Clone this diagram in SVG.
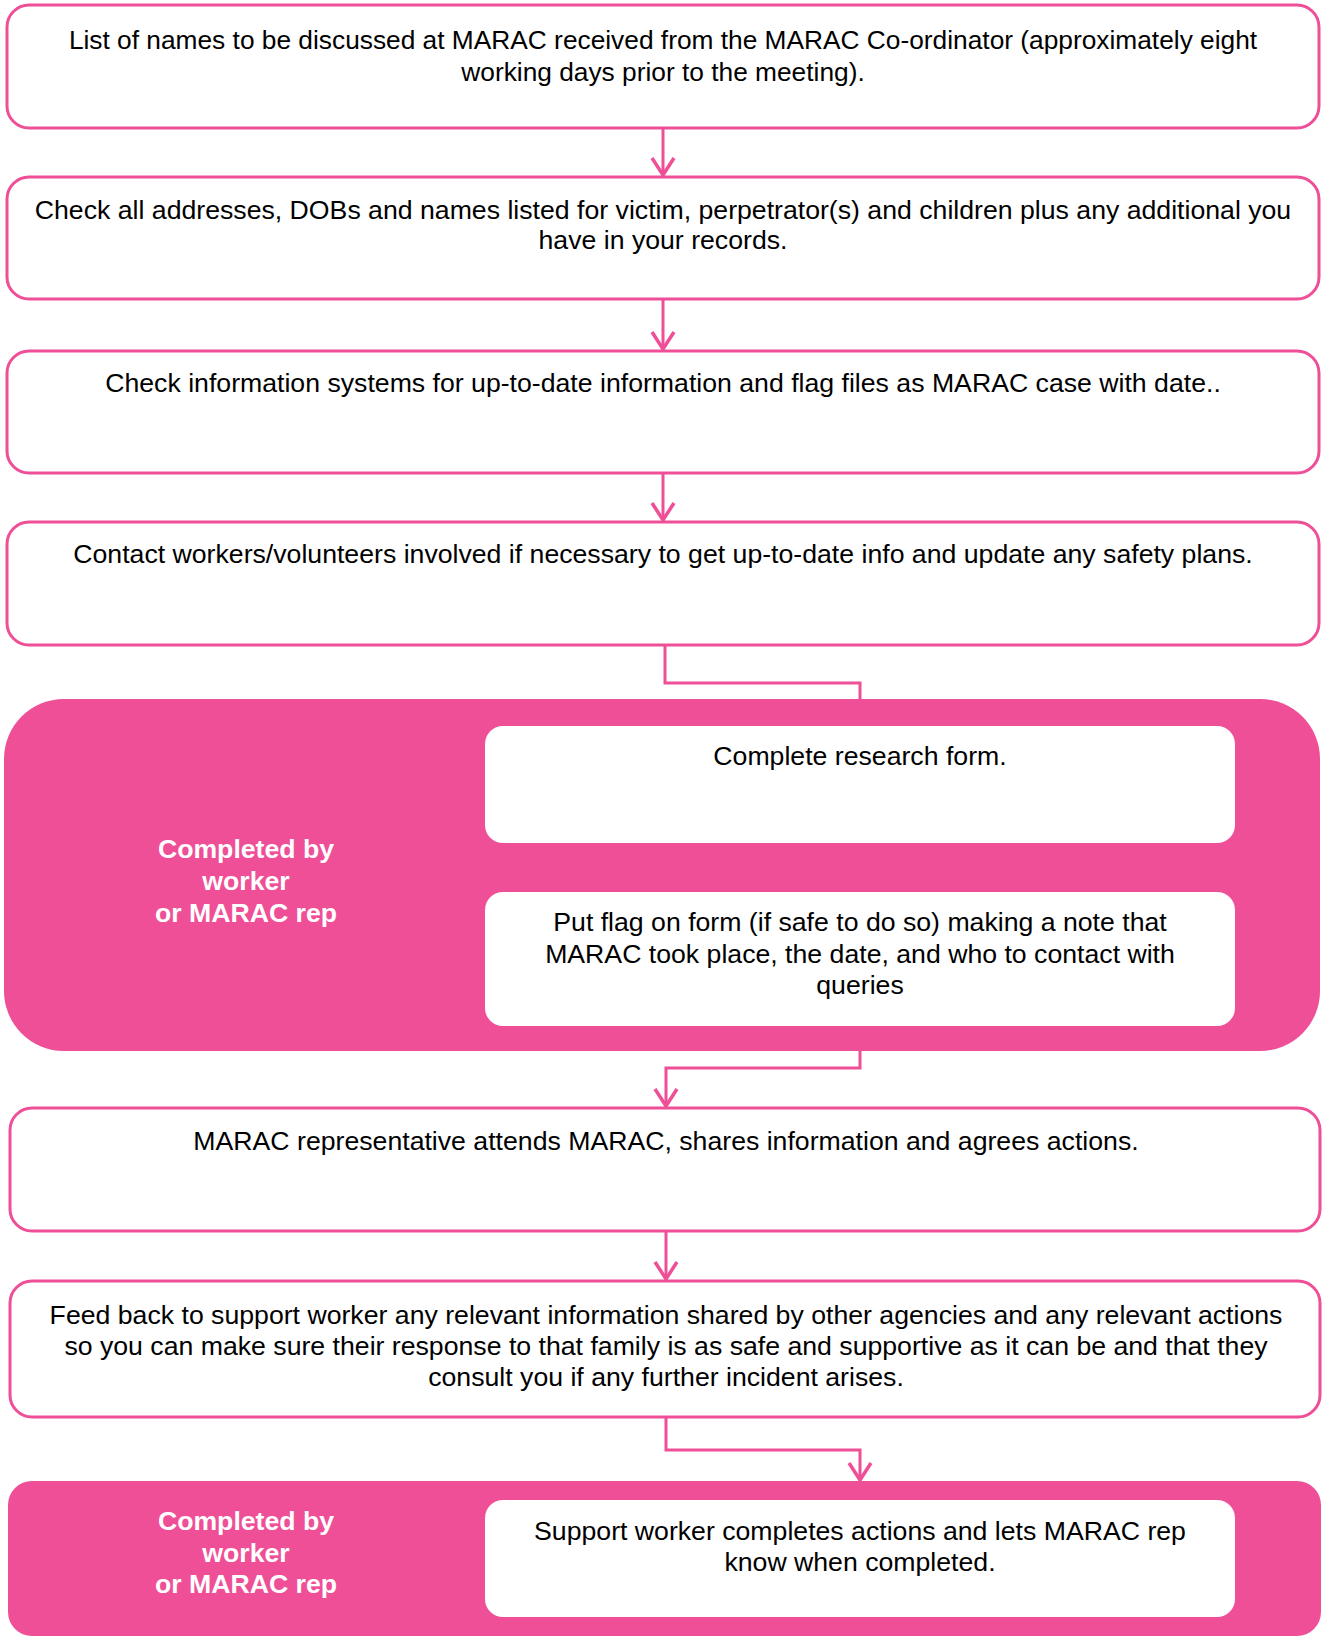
<svg xmlns="http://www.w3.org/2000/svg" width="1322" height="1636" viewBox="0 0 1322 1636">
<style>
.box{fill:#fff;stroke:#EF4F97;stroke-width:3}
.cont{fill:#EF4F97}
.inner{fill:#fff}
.t{font-family:"Liberation Sans",Arial,sans-serif;font-size:26.67px;fill:#000;text-anchor:middle}
.t1{font-size:26.3px}
.lbl{font-family:"Liberation Sans",Arial,sans-serif;font-size:26.67px;font-weight:bold;fill:#fff;text-anchor:middle}
.c{fill:none;stroke:#EF4F97;stroke-width:3}
.ah{fill:none;stroke:#EF4F97;stroke-width:3.5;stroke-linejoin:miter}
</style>
<rect width="1322" height="1636" fill="#fff"/>
<g id="connectors">
<path class="c" d="M663,128 V175"/>
<path class="ah" d="M652,158 L663,175 L674,158"/>
<path class="c" d="M663,299 V349"/>
<path class="ah" d="M652,332 L663,349 L674,332"/>
<path class="c" d="M663,473 V520"/>
<path class="ah" d="M652,503 L663,520 L674,503"/>
<path class="c" d="M665,645 V683 H860 V699"/>
<path class="c" d="M860,1051 V1068 H666 V1106"/>
<path class="ah" d="M655,1089 L666,1106 L677,1089"/>
<path class="c" d="M666,1231 V1279"/>
<path class="ah" d="M655,1262 L666,1279 L677,1262"/>
<path class="c" d="M666,1417 V1450 H860 V1480"/>
<path class="ah" d="M849,1463 L860,1480 L871,1463"/>
</g>
<g id="n1"><rect class="box" x="7" y="5" width="1312" height="123" rx="22"/>
<text class="t t1" x="663" y="49">List of names to be discussed at MARAC received from the MARAC Co-ordinator (approximately eight</text>
<text class="t t1" x="663" y="81">working days prior to the meeting).</text></g>
<g id="n2"><rect class="box" x="7" y="177" width="1312" height="122" rx="22"/>
<text class="t" x="663" y="219">Check all addresses, DOBs and names listed for victim, perpetrator(s) and children plus any additional you</text>
<text class="t" x="663" y="249">have in your records.</text></g>
<g id="n3"><rect class="box" x="7" y="351" width="1312" height="122" rx="22"/>
<text class="t" x="663" y="392">Check information systems for up-to-date information and flag files as MARAC case with date..</text></g>
<g id="n4"><rect class="box" x="7" y="522" width="1312" height="123" rx="22"/>
<text class="t" x="663" y="563">Contact workers/volunteers involved if necessary to get up-to-date info and update any safety plans.</text></g>
<g id="group1"><rect class="cont" x="4" y="699" width="1316" height="352" rx="60"/>
<text class="lbl" x="246" y="858">Completed by</text>
<text class="lbl" x="246" y="890">worker</text>
<text class="lbl" x="246" y="922">or MARAC rep</text></g>
<g id="n5"><rect class="inner" x="485" y="726" width="750" height="117" rx="18"/>
<text class="t" x="860" y="765">Complete research form.</text></g>
<g id="n6"><rect class="inner" x="485" y="892" width="750" height="134" rx="18"/>
<text class="t" x="860" y="931">Put flag on form (if safe to do so) making a note that</text>
<text class="t" x="860" y="963">MARAC took place, the date, and who to contact with</text>
<text class="t" x="860" y="994">queries</text></g>
<g id="n7"><rect class="box" x="10" y="1108" width="1310" height="123" rx="22"/>
<text class="t" x="666" y="1150">MARAC representative attends MARAC, shares information and agrees actions.</text></g>
<g id="n8"><rect class="box" x="10" y="1281" width="1310" height="136" rx="22"/>
<text class="t" x="666" y="1324">Feed back to support worker any relevant information shared by other agencies and any relevant actions</text>
<text class="t" x="666" y="1355">so you can make sure their response to that family is as safe and supportive as it can be and that they</text>
<text class="t" x="666" y="1386">consult you if any further incident arises.</text></g>
<g id="group2"><rect class="cont" x="8" y="1481" width="1313" height="155" rx="24"/>
<text class="lbl" x="246" y="1530">Completed by</text>
<text class="lbl" x="246" y="1562">worker</text>
<text class="lbl" x="246" y="1593">or MARAC rep</text></g>
<g id="n9"><rect class="inner" x="485" y="1500" width="750" height="117" rx="18"/>
<text class="t" x="860" y="1540">Support worker completes actions and lets MARAC rep</text>
<text class="t" x="860" y="1571">know when completed.</text></g>
</svg>
